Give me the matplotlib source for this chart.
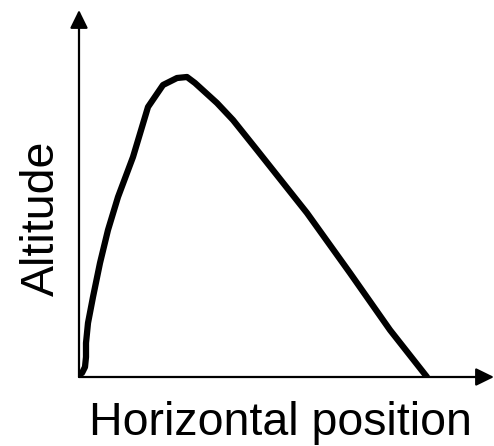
import numpy as np
import matplotlib.pyplot as plt

# trajectory (arbitrary units)
horiz = [0, 3, 6, 7, 7, 9, 14, 21, 29, 39, 54, 69, 84, 98, 108, 116, 138, 154, 178, 228, 271, 311, 348]
alt = [3, 4, 10, 20, 34, 54, 80, 114, 147, 180, 220, 270, 292, 299, 300, 294, 274, 257, 227, 164, 104, 47, 0]

plt.rcParams['font.family'] = ['Liberation Sans', 'DejaVu Sans']

fig = plt.figure(figsize=(4.94, 4.46), dpi=100)
ax = fig.add_axes([79/494, 69/446, 415/494, 367/446])
ax.set_xlim(0, 415)
ax.set_ylim(0, 367)

ax.plot(horiz, alt, color='black', lw=4.5, solid_joinstyle='round', solid_capstyle='round')

# axes drawn as arrows
arrow = dict(arrowstyle='-|>,head_length=0.55,head_width=0.27', mutation_scale=20,
             color='black', lw=1.6, shrinkA=0, shrinkB=0)
ax.annotate('', xy=(415, 0), xytext=(0, 0), arrowprops=arrow)
ax.annotate('', xy=(0, 367), xytext=(0, 0), arrowprops=arrow)

for s in ax.spines.values():
    s.set_visible(False)
ax.set_xticks([])
ax.set_yticks([])

fig.text(280/494, 1 - 435/446, 'Horizontal position', fontsize=33.5, ha='center', va='baseline')
fig.text(42/494, 1 - 218/446, 'Altitude', fontsize=33.5, ha='center', va='center', rotation=90)

fig.savefig('out.png', dpi=100)
